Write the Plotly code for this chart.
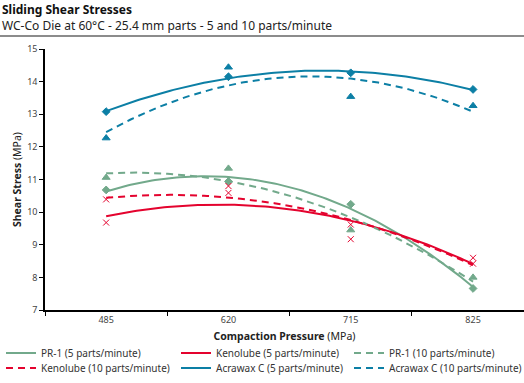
import numpy as np
import plotly.graph_objects as go

categories = ["485", "620", "715", "825"]
pr1_5 = [10.68, 10.94, 10.24, 7.66]
pr1_10 = [11.06, 11.34, 9.45, 8.00]
keno_5 = [9.68, 10.80, 9.17, 8.60]
keno_10 = [10.39, 10.59, 9.62, 8.42]
acra_5 = [13.08, 14.15, 14.27, 13.76]
acra_10 = [12.27, 14.44, 13.54, 13.26]

GREEN = "#72A98B"
RED = "#E4032E"
BLUE = "#0C7FA5"
FONT = "Noto Sans"

W, H = 524, 383
L, R, T, B = 45, 0, 49, 73
pw, ph = W - L - R, H - T - B


def px(x):
    return (x - L) / pw


def py(y):
    return (H - B - y) / ph


idx = np.arange(len(categories))
xf = np.linspace(0, 3, 121)

# legend slot: (left px, center y px, entry width)
series = [
    ("PR-1 (5 parts/minute)", pr1_5, GREEN, "solid", "diamond", (1, 353, 134)),
    ("Kenolube (5 parts/minute)", keno_5, RED, "solid", "x-thin-open", (176, 353, 134)),
    ("PR-1 (10 parts/minute)", pr1_10, GREEN, "7px,5px", "triangle-up", (349, 353, 128)),
    ("Kenolube (10 parts/minute)", keno_10, RED, "7px,5px", "x-thin-open", (1, 368, 134)),
    ("Acrawax C (5 parts/minute)", acra_5, BLUE, "solid", "diamond", (176, 368, 134)),
    ("Acrawax C (10 parts/minute)", acra_10, BLUE, "7px,5px", "triangle-up", (349, 368, 128)),
]

fig = go.Figure()
legends = {}
for i, (name, vals, color, dash, sym, pos) in enumerate(series):
    key = "legend" if i == 0 else f"legend{i + 1}"
    coef = np.polyfit(idx, vals, 2)
    fig.add_trace(go.Scatter(x=xf, y=np.polyval(coef, xf), mode="lines", name=name, legend=key,
                             line=dict(color=color, width=2, dash=dash)))
    legends[key] = dict(orientation="h", xanchor="left", yanchor="middle",
                        x=px(pos[0]), y=py(pos[1]),
                        entrywidth=pos[2], entrywidthmode="pixels",
                        font=dict(size=10, color="#333"), itemwidth=30,
                        bgcolor="rgba(0,0,0,0)")
for name, vals, color, dash, sym, pos in series:
    fig.add_trace(go.Scatter(x=idx, y=vals, mode="markers", showlegend=False,
                             marker=dict(symbol=sym, color=color, size=7 if "triangle" in sym else 6,
                                         line=dict(color=color, width=1))))

fig.update_layout(
    width=W, height=H,
    margin=dict(l=L, r=R, t=T, b=B),
    plot_bgcolor="white", paper_bgcolor="white",
    font=dict(family=FONT, color="#333", size=10),
    showlegend=True,
    xaxis=dict(range=[-0.5, -0.5 + (W - L - R) / 122.3], tickvals=list(idx), ticktext=categories,
               ticks="", showline=True, linecolor="black", linewidth=1.5, showgrid=False,
               zeroline=False, tickfont=dict(size=9, color="#444"),
               minor=dict(ticks="outside", tick0=-0.5, dtick=1, ticklen=4, tickcolor="black"),
               title=dict(text="<b>Compaction Pressure</b> (MPa)", font=dict(size=10.5, color="#222"),
                          standoff=8)),
    yaxis=dict(range=[7, 15], dtick=1, ticks="outside", ticklen=4, tickcolor="black",
               showline=True, linecolor="black", linewidth=1.5, showgrid=False, zeroline=False,
               tickfont=dict(size=9, color="#444"),
               title=dict(text="<b>Shear Stress</b> (MPa)", font=dict(size=10.5, color="#222"),
                          standoff=3)),
    **legends,
)

fig.add_annotation(text="<b>Sliding Shear Stresses</b>", xref="paper", yref="paper",
                   x=px(1), y=py(9), xanchor="left", yanchor="middle", showarrow=False,
                   font=dict(size=12, color="#111"), borderpad=0)
fig.add_annotation(text="WC-Co Die at 60°C - 25.4 mm parts - 5 and 10 parts/minute", xref="paper",
                   yref="paper", x=px(1), y=py(26), xanchor="left", yanchor="middle",
                   showarrow=False, font=dict(size=12, color="#222"), borderpad=0)
fig.add_shape(type="line", xref="paper", yref="paper", x0=px(0), x1=px(524), y0=py(36), y1=py(36),
              line=dict(color="#666", width=1.5))

fig.write_html("out.html")
